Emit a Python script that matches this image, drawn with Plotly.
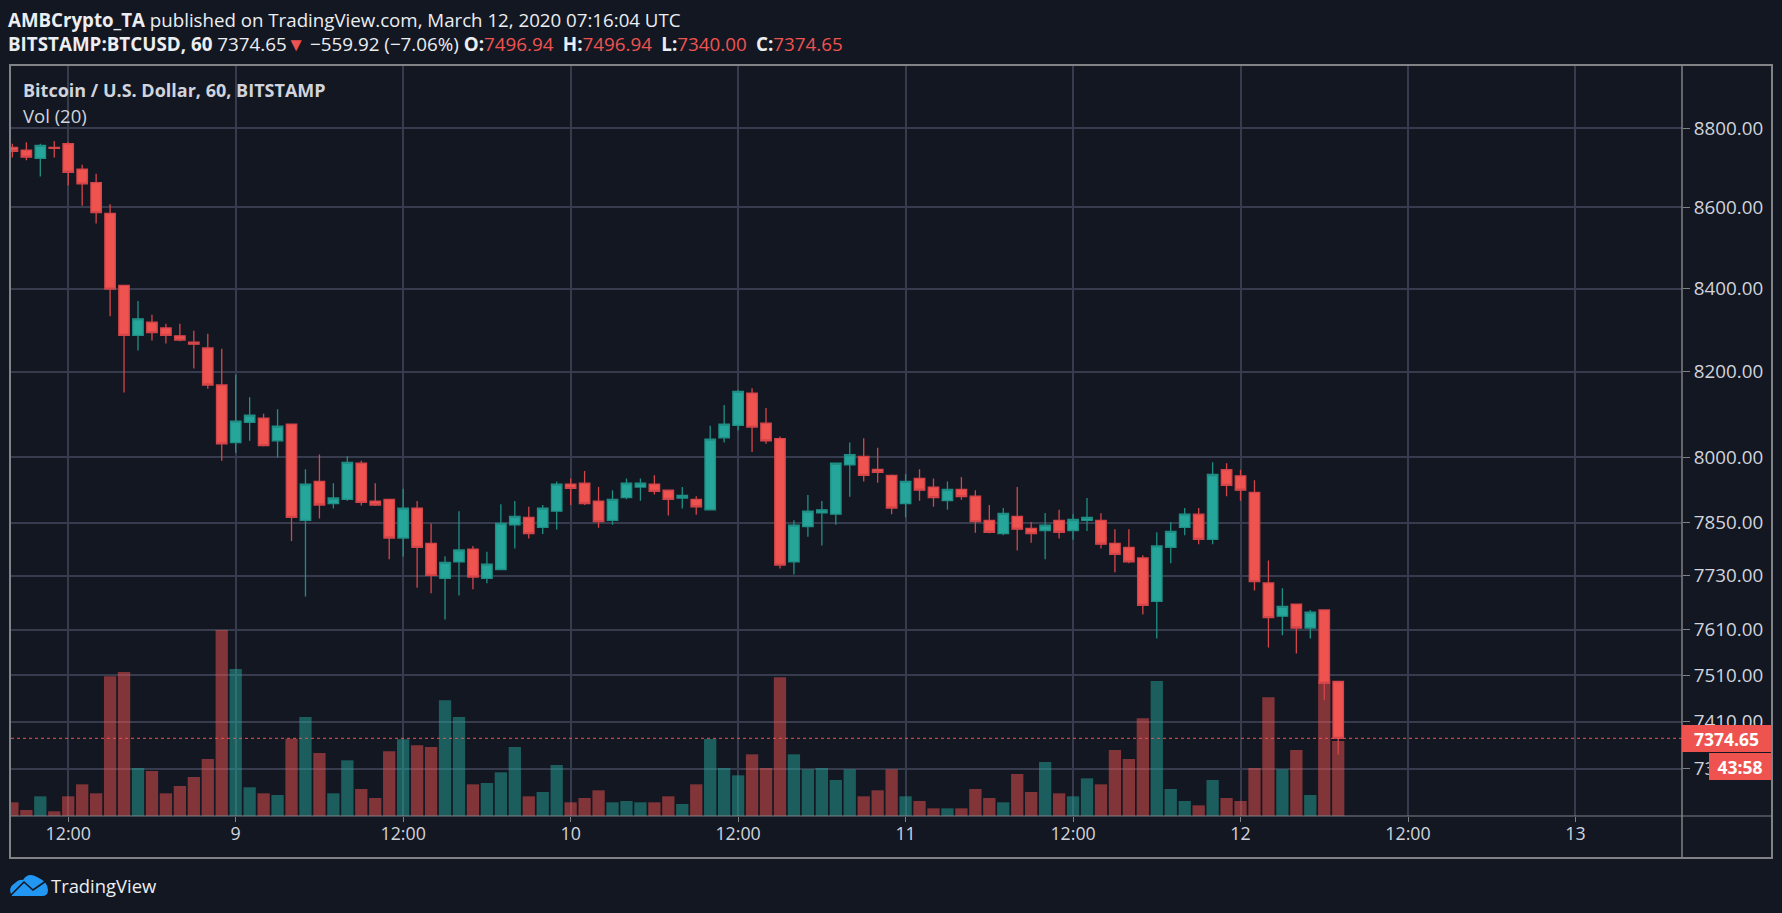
# Bitcoin hourly candles with volume, TradingView dark style
import math
import pandas as pd
import plotly.graph_objects as go

# hourly bars, 08:00 on March 8 up to 07:00 on March 12
times = pd.date_range("2020-03-08 08:00", periods=96, freq="h")

opens = [8751, 8744, 8723, 8751, 8760, 8696, 8662, 8585, 8408, 8287, 8319, 8305, 8286, 8271, 8257, 8169,
         8034, 8081, 8091, 8038, 8077, 7855, 7944, 7893, 7903, 7986, 7899, 7903, 7815, 7883, 7803, 7724,
         7761, 7790, 7724, 7744, 7845, 7862, 7839, 7876, 7938, 7940, 7899, 7855, 7907, 7931, 7938, 7924,
         7906, 7903, 7879, 8045, 8074, 8150, 8079, 8043, 7761, 7841, 7872, 7869, 7982, 8002, 7972, 7958,
         7893, 7951, 7931, 7900, 7926, 7910, 7855, 7825, 7864, 7837, 7832, 7855, 7832, 7855, 7855, 7803,
         7794, 7770, 7673, 7794, 7839, 7869, 7812, 7971, 7957, 7919, 7714, 7640, 7667, 7614, 7654, 7496.94]
highs = [8760, 8764, 8760, 8767, 8764, 8707, 8684, 8608, 8408, 8370, 8337, 8315, 8315, 8298, 8291, 8255,
         8193, 8140, 8101, 8112, 8077, 7972, 8006, 7940, 8002, 7992, 7940, 7903, 7927, 7899, 7848, 7774,
         7876, 7797, 7784, 7892, 7899, 7886, 7890, 7944, 7951, 7968, 7931, 7924, 7951, 7951, 7958, 7924,
         7931, 7910, 8073, 8122, 8157, 8161, 8115, 8048, 7855, 7913, 7899, 7986, 8034, 8044, 8022, 7960,
         7961, 7972, 7951, 7944, 7954, 7924, 7890, 7883, 7931, 7851, 7872, 7879, 7869, 7906, 7871, 7835,
         7835, 7776, 7828, 7851, 7883, 7883, 7988, 7986, 7971, 7947, 7764, 7702, 7667, 7654, 7654, 7496.94]
lows = [8725, 8718, 8677, 8725, 8655, 8604, 8560, 8333, 8151, 8251, 8275, 8268, 8273, 8208, 8160, 7992,
        8010, 8038, 8025, 7999, 7808, 7684, 7859, 7882, 7900, 7889, 7888, 7767, 7773, 7703, 7691, 7633,
        7686, 7700, 7713, 7744, 7791, 7814, 7824, 7834, 7890, 7890, 7838, 7845, 7903, 7900, 7914, 7866,
        7882, 7868, 7879, 8034, 8062, 8012, 8031, 7746, 7733, 7818, 7798, 7845, 7909, 7944, 7941, 7869,
        7862, 7900, 7886, 7879, 7902, 7827, 7826, 7821, 7787, 7804, 7767, 7814, 7811, 7831, 7791, 7738,
        7758, 7644, 7591, 7758, 7821, 7801, 7801, 7910, 7900, 7697, 7571, 7598, 7558, 7591, 7457, 7340]
closes = [8741, 8726, 8756, 8748, 8688, 8659, 8587, 8399, 8287, 8327, 8294, 8287, 8276, 8266, 8169, 8031,
          8084, 8098, 8027, 8072, 7862, 7938, 7890, 7906, 7988, 7896, 7890, 7815, 7883, 7794, 7731, 7760,
          7788, 7727, 7756, 7848, 7864, 7825, 7883, 7938, 7928, 7893, 7852, 7903, 7940, 7940, 7921, 7903,
          7912, 7886, 8042, 8077, 8154, 8070, 8038, 7754, 7844, 7876, 7879, 7986, 8006, 7958, 7965, 7883,
          7944, 7924, 7907, 7926, 7909, 7852, 7828, 7871, 7835, 7825, 7844, 7828, 7857, 7862, 7801, 7778,
          7761, 7664, 7797, 7830, 7869, 7812, 7960, 7935, 7924, 7717, 7637, 7662, 7614, 7649, 7493, 7374.65]
volumes = [41, 18, 59, 14, 59, 95, 68, 419, 432, 144, 135, 68, 90, 117, 171, 558,
           441, 86, 68, 63, 232, 297, 189, 68, 167, 81, 54, 194, 230, 212, 207, 347,
           297, 95, 99, 131, 207, 59, 72, 153, 41, 54, 77, 41, 45, 41, 41, 59,
           36, 95, 231, 144, 122, 185, 144, 416, 185, 140, 144, 108, 140, 59, 77, 140,
           59, 45, 23, 23, 23, 81, 54, 41, 126, 72, 162, 68, 59, 113, 95, 198,
           171, 293, 405, 81, 45, 32, 108, 54, 45, 144, 356, 140, 198, 63, 410, 225]

price_ticks = [8800, 8600, 8400, 8200, 8000, 7850, 7730, 7610, 7510, 7410, 7310]
time_ticks = ["2020-03-08 12:00", "2020-03-09 00:00", "2020-03-09 12:00", "2020-03-10 00:00",
              "2020-03-10 12:00", "2020-03-11 00:00", "2020-03-11 12:00", "2020-03-12 00:00",
              "2020-03-12 12:00", "2020-03-13 00:00"]
time_labels = ["12:00", "9", "12:00", "10", "12:00", "11", "12:00", "12", "12:00", "13"]

last_close = closes[-1]
countdown = "43:58"

# colours
BG = "#131722"
GRID = "#363c4e"
FRAME = "#808285"
UP = "#26a69a"
DOWN = "#ef5350"
UP_EDGE = "#1f8f85"
DOWN_EDGE = "#d4454a"
TEXT = "#d1d4dc"
FONT = "Open Sans"

# plot area inside the 1782x913 page, everything else is placed relative to it
PL, PR, PT, PB = 11, 1682, 66, 816


def px(x):
    return (x - PL) / (PR - PL)


def py(y):
    return (PB - y) / (PB - PT)


bar_colors = ["rgba(38,166,154,0.5)" if c >= o else "rgba(239,83,80,0.5)" for o, c in zip(opens, closes)]

fig = go.Figure()

# volume goes on the base axis so the candles end up drawn over it
fig.add_trace(go.Bar(x=times, y=volumes, marker_color=bar_colors, marker_line_width=0,
                     width=0.88 * 3600000, yaxis="y", xaxis="x", hoverinfo="skip"))

fig.add_trace(go.Candlestick(x=times, open=opens, high=highs, low=lows, close=closes,
                             yaxis="y2", xaxis="x", whiskerwidth=0,
                             increasing=dict(line=dict(color=UP_EDGE, width=1.3), fillcolor=UP),
                             decreasing=dict(line=dict(color=DOWN_EDGE, width=1.3), fillcolor=DOWN)))

shapes = [
    # outer frame, price scale and time scale separators
    dict(type="rect", xref="paper", yref="paper", x0=px(10), x1=px(1772), y0=py(65), y1=py(858),
         line=dict(color=FRAME, width=2)),
    dict(type="line", xref="paper", yref="paper", x0=px(1682), x1=px(1682), y0=py(65), y1=py(858),
         line=dict(color=FRAME, width=1.5)),
    dict(type="line", xref="paper", yref="paper", x0=px(10), x1=px(1772), y0=py(816), y1=py(816),
         line=dict(color=FRAME, width=1.2)),
    # last price line
    dict(type="line", xref="paper", yref="y2", x0=0, x1=1, y0=last_close, y1=last_close,
         line=dict(color=DOWN, width=1, dash="dot")),
    # TradingView cloud
    dict(type="path", xref="paper", yref="paper", fillcolor="#2196f3", line=dict(width=0),
         path="M {} {} Q {} {} {} {} Q {} {} {} {} Q {} {} {} {} Q {} {} {} {} Q {} {} {} {} Z".format(
             px(12), py(896), px(7), py(888), px(15), py(883),
             px(19), py(879), px(23), py(880),
             px(28), py(872), px(37), py(877),
             px(48), py(882), px(48), py(890),
             px(48), py(896), px(42), py(896))),
    dict(type="path", xref="paper", yref="paper", line=dict(color=BG, width=1.6),
         path="M {} {} L {} {} L {} {} L {} {}".format(px(11), py(895), px(24), py(882),
                                                       px(33), py(890), px(46), py(881))),
]

annotations = [
    dict(text="<b>AMBCrypto_TA</b> published on TradingView.com, March 12, 2020 07:16:04 UTC",
         x=px(8), y=py(19), font=dict(size=18.7, color="#eceef2")),
    dict(text="<b>BITSTAMP:BTCUSD, 60</b> 7374.65<span style='color:#ef5350'>▼</span> −559.92 (−7.06%) "
              "<b>O:</b><span style='color:#ef5350'>7496.94</span>&#8194;<b>H:</b><span style='color:#ef5350'>7496.94</span>&#8194;"
              "<b>L:</b><span style='color:#ef5350'>7340.00</span>&#8194;<b>C:</b><span style='color:#ef5350'>7374.65</span>",
         x=px(8), y=py(44), font=dict(size=18.8, color="#eceef2")),
    dict(text="<b>Bitcoin / U.S. Dollar, 60, BITSTAMP</b>", x=px(23), y=py(90), font=dict(size=18, color=TEXT)),
    dict(text="Vol (20)", x=px(23), y=py(116), font=dict(size=18.5, color=TEXT)),
    dict(text="TradingView", x=px(51), y=py(885), font=dict(size=18.4, color="#eceef2")),
]
for a in annotations:
    a.update(xref="paper", yref="paper", xanchor="left", yanchor="middle", showarrow=False,
             borderpad=0, borderwidth=0)

# price and countdown boxes on the scale
annotations.append(dict(text="<b>{:.2f}</b>".format(last_close), xref="paper", yref="y2", x=px(1771), y=math.log10(last_close),
                        xanchor="right", yanchor="middle", showarrow=False, width=89, height=27, align="center",
                        borderpad=0, borderwidth=0, bgcolor=DOWN, font=dict(family=FONT, size=17.5, color="#ffffff")))
annotations.append(dict(text="<b>{}</b>".format(countdown), xref="paper", yref="paper", x=px(1771), y=py(766.5),
                        xanchor="right", yanchor="middle", showarrow=False, width=62, height=27, align="center",
                        borderpad=0, borderwidth=0, bgcolor=DOWN, font=dict(family=FONT, size=17.5, color="#ffffff")))

fig.update_layout(
    width=1782,
    height=913,
    margin=dict(l=PL, r=1782 - PR, t=PT, b=913 - PB),
    paper_bgcolor=BG,
    plot_bgcolor=BG,
    showlegend=False,
    boxgap=0.25,
    boxgroupgap=0,
    font=dict(family=FONT, color=TEXT),
    shapes=shapes,
    annotations=annotations,
    xaxis=dict(
        type="date",
        range=["2020-03-08 07:54", "2020-03-13 07:38"],
        rangeslider=dict(visible=False),
        tickmode="array",
        tickvals=time_ticks,
        ticktext=time_labels,
        ticks="outside",
        ticklen=5,
        tickcolor=FRAME,
        tickfont=dict(size=17.8, color=TEXT),
        ticklabelstandoff=-3,
        showgrid=True,
        gridcolor=GRID,
        gridwidth=1.7,
        zeroline=False,
    ),
    yaxis=dict(
        range=[0, 2250],
        showgrid=False,
        zeroline=False,
        showticklabels=False,
        ticks="",
    ),
    yaxis2=dict(
        type="log",
        overlaying="y",
        side="right",
        range=[math.log10(7210.6), math.log10(8959.4)],
        tickmode="array",
        tickvals=price_ticks,
        ticktext=["{:.2f}".format(p) for p in price_ticks],
        ticks="outside",
        ticklen=7,
        tickcolor=FRAME,
        tickfont=dict(size=18.8, color=TEXT),
        showgrid=True,
        gridcolor=GRID,
        gridwidth=1.7,
        zeroline=False,
    ),
)

fig.write_html("out.html", config=dict(displayModeBar=False),
               post_script="document.body.style.margin='0';document.body.style.background='#131722';document.body.style.overflow='hidden';")
